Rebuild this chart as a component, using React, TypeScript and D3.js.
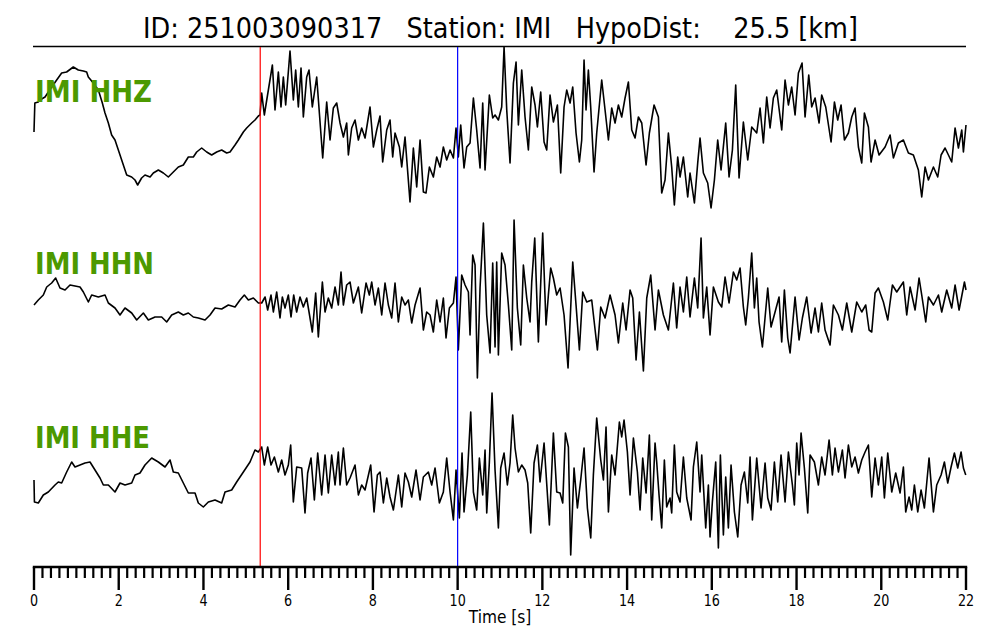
import React from "react";
import * as d3 from "d3";

// ---- Data (time [s], amplitude [arbitrary counts, positive up]) ----
const hhzTrace: [number, number][] = [
  [0, -2], [0.02, 27], [0.1, 28], [0.142, 30], [0.26, 33], [0.42, 43], [0.535, 50], [0.653, 57], [0.77, 58],
  [0.928, 63], [1.046, 60], [1.165, 59], [1.243, 58], [1.282, 53], [1.4, 47], [1.519, 40], [1.613, 27],
  [1.676, 17], [1.755, 7], [1.833, -5], [1.912, -10], [1.991, -20], [2.109, -35], [2.188, -45], [2.305, -47],
  [2.384, -50], [2.447, -55], [2.54, -48], [2.62, -45], [2.74, -47], [2.817, -43], [2.935, -40], [3.053, -43],
  [3.171, -47], [3.289, -42], [3.407, -37], [3.525, -35], [3.643, -27], [3.761, -27], [3.84, -22], [3.958, -18],
  [4.076, -22], [4.194, -25], [4.312, -22], [4.43, -20], [4.548, -23], [4.627, -22], [4.745, -15], [4.824, -10],
  [4.942, -2], [5.02, 2], [5.138, 7], [5.217, 10], [5.296, 14], [5.335, 15],
  [5.375, 37], [5.437, 15], [5.532, 40], [5.627, 65], [5.689, 20], [5.768, 58], [5.83, 23], [5.886, 53],
  [5.941, 25], [6.043, 79], [6.122, 30], [6.177, 60], [6.24, 23], [6.303, 62], [6.358, 13], [6.437, 53],
  [6.492, 60], [6.57, 23], [6.673, 53], [6.815, -28], [6.909, 28], [6.988, -10], [7.066, 22], [7.145, 27],
  [7.224, 7], [7.303, -7], [7.381, 7], [7.421, -25], [7.499, 2], [7.578, 10], [7.657, -10], [7.735, 2],
  [7.814, -8], [7.932, 23], [8.011, -17], [8.09, 0], [8.168, 14], [8.231, -32], [8.326, 0], [8.404, 10],
  [8.467, -27], [8.522, -3], [8.625, -17], [8.68, -37], [8.758, -7], [8.876, -72], [8.955, -18], [9.034, -57],
  [9.113, -10], [9.191, -62], [9.254, -63], [9.333, -37], [9.427, -47], [9.506, -27], [9.585, -37], [9.663, -17],
  [9.742, -30], [9.821, -20], [9.9, -28], [9.962, 2], [10.017, -27], [10.073, 5], [10.151, -38], [10.214, -17],
  [10.293, -13], [10.372, 32], [10.45, 0], [10.529, -38], [10.592, 27], [10.647, -40], [10.749, 35], [10.828, 12],
  [10.883, 15], [10.962, 10], [11.04, 23], [11.096, 83], [11.159, 20], [11.237, -33], [11.316, 47], [11.379, 68],
  [11.434, 5], [11.513, 60], [11.591, 13], [11.67, -20], [11.749, 43], [11.827, 25], [11.883, 3], [11.961, 38],
  [12.04, -12], [12.103, -20], [12.181, 35], [12.26, 8], [12.355, 25], [12.433, -43], [12.512, 23], [12.575, 40],
  [12.654, 27], [12.717, 43], [12.795, -3], [12.874, -32], [12.929, -10], [12.984, 70], [13.031, 20], [13.086, 60],
  [13.141, 23], [13.22, -42], [13.283, -3], [13.401, 50], [13.48, 20], [13.559, -10], [13.637, 22], [13.716, 7],
  [13.795, 25], [13.873, 13], [13.952, 32], [14.031, 48], [14.11, 0], [14.188, -8], [14.267, 13], [14.346, 7],
  [14.448, -35], [14.526, -3], [14.637, 25],
  [14.739, 13], [14.817, -63], [14.896, -50], [14.975, -3], [15.053, -37], [15.116, -75], [15.195, -27],
  [15.25, -47], [15.329, -27], [15.431, -67], [15.486, -43], [15.589, -73], [15.667, -33], [15.722, -8],
  [15.801, -43], [15.903, -53], [15.982, -78], [16.061, -50], [16.139, -10], [16.218, -40], [16.328, 7],
  [16.407, -47], [16.486, -20], [16.564, 45], [16.643, -48], [16.745, 8], [16.848, -30], [16.942, 3],
  [17.06, -3], [17.139, 22], [17.217, -13], [17.296, 33], [17.375, 2], [17.453, 32], [17.532, 40], [17.65, 0],
  [17.729, 50], [17.808, 25], [17.886, 43], [17.965, 15], [18.044, 57], [18.13, 67], [18.201, 13], [18.288, 55],
  [18.358, 23], [18.437, 32], [18.532, 7], [18.594, 35], [18.689, 23], [18.815, -12], [18.894, 28], [18.972, 10],
  [19.051, 25], [19.13, -10], [19.224, -3], [19.303, 13], [19.381, 22], [19.46, -17], [19.539, -33], [19.602, 17],
  [19.696, 3], [19.759, -32], [19.854, -10], [19.948, -25], [20.09, -17], [20.208, -5], [20.286, -28],
  [20.404, -13], [20.522, -10], [20.64, -23], [20.758, -25], [20.876, -40], [20.955, -67], [21.034, -37],
  [21.113, -50], [21.231, -37], [21.333, -47], [21.412, -25], [21.506, -18], [21.585, -25], [21.663, -32],
  [21.742, 2], [21.821, -18], [21.9, 0], [21.939, -22], [22.0, 5],
];

const hhnTrace: [number, number][] = [
  [0, -5], [0.102, 0], [0.22, 5], [0.3, 13], [0.417, 17], [0.511, 22], [0.614, 12], [0.732, 10], [0.85, 15],
  [0.968, 14], [1.086, 13], [1.165, 8], [1.283, -2], [1.361, 5], [1.519, 3], [1.676, 5], [1.755, -3],
  [1.912, -8], [2.03, -15], [2.148, -8], [2.306, -13], [2.424, -20], [2.581, -13], [2.699, -20], [2.857, -17],
  [3.014, -17], [3.132, -22], [3.25, -15], [3.407, -12], [3.525, -15], [3.643, -13], [3.761, -17], [3.879, -18],
  [4.037, -20], [4.155, -15], [4.273, -8], [4.43, -9], [4.588, -5], [4.745, -7], [4.863, 0], [4.965, 5],
  [5.06, 0], [5.178, 2], [5.296, -3], [5.375, -3], [5.454, 3], [5.516, -10], [5.595, 5], [5.65, -12],
  [5.729, 8], [5.807, -18], [5.862, 3], [5.925, -8], [6.004, 5], [6.067, -17], [6.13, 5], [6.2, -12],
  [6.279, 3], [6.358, -7], [6.437, 2], [6.492, -12], [6.57, -32], [6.649, 7], [6.712, -37], [6.807, 18],
  [6.87, -12], [6.948, 2], [7.027, -8], [7.106, 13], [7.184, -5], [7.247, 28],
  [7.303, -5], [7.381, 15], [7.46, 18], [7.539, -3], [7.657, 13], [7.735, -13], [7.838, 17], [7.916, 5],
  [7.972, 18], [8.05, -5], [8.129, 12], [8.208, -15], [8.286, 17], [8.365, -5], [8.444, -18], [8.522, 17],
  [8.601, -22], [8.68, 3], [8.758, -5], [8.837, 0], [8.916, -23], [8.995, -5], [9.113, 12], [9.191, -30],
  [9.27, -12], [9.349, -15], [9.427, -32], [9.506, 0], [9.585, -22], [9.663, 2], [9.726, -38], [9.805, -8],
  [9.9, -3], [9.962, 23], [10.017, -50], [10.096, 25], [10.175, 15], [10.254, 8], [10.293, -35], [10.356, 45],
  [10.411, 35], [10.466, -78], [10.529, 12], [10.608, 77], [10.686, -15], [10.765, -53], [10.828, 37],
  [10.883, -47], [10.922, 38], [10.962, -55], [11.04, 47], [11.119, 35], [11.198, -5], [11.277, -50],
  [11.332, 80], [11.41, -8], [11.489, -45], [11.552, 35], [11.631, 2], [11.709, -22], [11.749, 18],
  [11.82, 62], [11.906, -42], [12.008, 67], [12.087, -25], [12.142, 5], [12.197, 32], [12.26, 22],
  [12.339, 5], [12.418, 12], [12.512, -15], [12.606, -68], [12.654, -22], [12.717, 38], [12.795, -5],
  [12.874, -50], [12.953, 8], [13.047, -2], [13.165, 0], [13.299, -50], [13.378, -7], [13.48, -18],
  [13.598, 5], [13.716, -15], [13.795, -43], [13.897, -3], [13.976, -30], [14.07, 10], [14.133, 2],
  [14.212, -60], [14.291, -12], [14.385, -71], [14.464, 2], [14.558, 25], [14.66, -30],
  [14.739, 10], [14.857, -15], [14.975, -30], [15.093, 17], [15.171, -28], [15.25, 13], [15.329, -12],
  [15.408, 23], [15.486, -17], [15.589, 22], [15.667, -8], [15.746, 62], [15.801, -18], [15.88, 13],
  [15.958, -35], [16.037, 13], [16.155, -2], [16.234, -7], [16.313, 23], [16.407, -3], [16.509, 28],
  [16.588, 20], [16.667, 32], [16.745, -7], [16.8, -25], [16.863, 2], [16.942, 47], [17.005, -8], [17.06, 22],
  [17.115, -22], [17.194, -47], [17.32, 12], [17.398, -27], [17.493, -12], [17.587, 3], [17.65, -42],
  [17.713, 10], [17.792, -38], [17.847, -53], [17.965, 3], [18.06, -40], [18.138, -18], [18.24, 3],
  [18.343, -33], [18.437, -8], [18.516, -32], [18.594, -3], [18.673, -30], [18.791, -45], [18.87, -5],
  [18.988, -15], [19.082, -30], [19.185, -3], [19.303, -32], [19.421, -2], [19.539, -12], [19.633, -5],
  [19.712, -30], [19.775, -32], [19.854, 7], [19.932, 12], [20.05, -2], [20.153, -20], [20.263, 15],
  [20.365, 8], [20.522, 18], [20.601, -15], [20.68, 13], [20.798, -10], [20.892, 22], [20.955, 5],
  [21.05, -22], [21.113, 3], [21.231, -5], [21.349, 5], [21.427, -12], [21.545, 10], [21.663, -8],
  [21.742, 15], [21.837, -10], [21.963, 18], [22.0, 10],
];

const hheTrace: [number, number][] = [
  [0, -5], [0.01, -27], [0.102, -28], [0.22, -20], [0.338, -17], [0.496, -10], [0.574, -7], [0.653, -8],
  [0.771, 3], [0.889, 13], [0.968, 8], [1.086, 10], [1.204, 12], [1.322, 13], [1.44, 5], [1.558, -3],
  [1.637, -10], [1.755, -10], [1.912, -17], [2.03, -8], [2.148, -10], [2.306, -8], [2.384, 0], [2.502, 2],
  [2.62, 10], [2.778, 17], [2.935, 13], [3.093, 8], [3.211, 15], [3.289, 3], [3.407, 2], [3.525, -8],
  [3.643, -18], [3.801, -18], [3.879, -28], [3.997, -32], [4.115, -27], [4.273, -25], [4.43, -28],
  [4.509, -17], [4.666, -15], [4.784, -7], [4.942, 3], [5.099, 13], [5.217, 25], [5.296, 23], [5.375, 28],
  [5.437, 10], [5.516, 28], [5.595, 10], [5.674, 18], [5.768, 3], [5.847, 15], [5.925, 0], [6.004, 10],
  [6.059, 30], [6.122, -27], [6.201, 8], [6.319, 7], [6.397, -38], [6.46, 2], [6.539, 17], [6.618, -25],
  [6.697, 22], [6.791, -20], [6.87, 20], [6.948, -18], [7.027, 20], [7.106, -10], [7.184, 23],
  [7.224, -10], [7.303, 27], [7.381, -10], [7.46, -3], [7.578, 10], [7.657, -20], [7.735, -10], [7.814, -15],
  [7.948, 10], [8.027, -37], [8.105, 0], [8.168, 3], [8.247, -28], [8.326, -3], [8.404, -22], [8.483, -35],
  [8.601, 0], [8.68, -32], [8.758, 2], [8.837, -7], [8.916, -22], [9.018, 5], [9.113, -25], [9.191, -2],
  [9.309, 3], [9.388, -10], [9.467, 7], [9.569, -28], [9.663, -17], [9.742, 17], [9.821, -17], [9.9, -45],
  [9.962, 5], [10.041, -43], [10.104, 22], [10.151, -37], [10.23, 0], [10.309, 63], [10.372, -17],
  [10.45, -35], [10.513, 17], [10.592, -20], [10.647, 25], [10.687, -38], [10.749, 13], [10.812, 82],
  [10.883, 5], [10.962, -53], [11.017, 7], [11.096, 22], [11.174, -10], [11.237, 12], [11.3, 60],
  [11.355, 27], [11.434, 3], [11.513, 10], [11.591, 5], [11.654, -8], [11.725, -58], [11.804, 12],
  [11.883, 30], [11.945, -7], [12.04, 32], [12.166, -50], [12.26, 42], [12.339, -17], [12.418, -18],
  [12.481, -28], [12.544, 42], [12.614, 28], [12.669, -80], [12.748, 7], [12.827, -33], [12.905, -5],
  [12.984, 27], [13.063, -33], [13.142, -63], [13.204, 0], [13.283, 57], [13.378, 15], [13.441, -5],
  [13.503, 48], [13.559, -37], [13.637, 20], [13.716, 0], [13.818, 53], [13.873, 38], [13.928, 55],
  [14.007, 23], [14.07, -20], [14.149, 37], [14.243, 3], [14.306, -35], [14.369, 17], [14.448, -18],
  [14.526, 40], [14.581, -45], [14.66, 32],
  [14.699, 13], [14.754, -20], [14.817, -53], [14.88, 15], [14.935, -32], [15.014, -23], [15.053, -38],
  [15.116, 30], [15.171, -17], [15.25, -27], [15.329, 18], [15.408, -23], [15.51, -45], [15.565, 8],
  [15.644, 33], [15.722, -17], [15.762, 20], [15.856, -53], [15.919, -10], [15.958, -62], [16.013, -27],
  [16.092, 13], [16.155, -73], [16.202, 20], [16.273, -60], [16.328, -2], [16.391, -53], [16.454, 10],
  [16.533, -37], [16.612, -62], [16.69, -10], [16.769, 3], [16.848, -28], [16.903, 18], [16.958, -45],
  [17.06, 17], [17.162, -33], [17.257, 12], [17.32, -23], [17.398, -35], [17.477, 13], [17.556, -27],
  [17.634, 20], [17.729, -27], [17.808, 23], [17.902, -10], [17.949, -30], [18.004, 32], [18.059, 0],
  [18.107, 42], [18.185, 7], [18.264, -38], [18.319, 20], [18.421, 13], [18.516, -10], [18.594, 18],
  [18.673, 0], [18.768, 35], [18.846, 0], [18.909, 27], [18.988, 3], [19.082, 25], [19.145, -3],
  [19.224, 30], [19.303, 8], [19.381, 18], [19.46, 2], [19.539, 15], [19.618, 23], [19.696, 30],
  [19.775, -22], [19.854, 17], [19.932, -10], [20.011, 18], [20.074, -23], [20.153, 22], [20.247, -17],
  [20.341, 2], [20.444, -18], [20.522, 8], [20.577, -37], [20.656, -22], [20.719, -35], [20.782, -10],
  [20.861, -37], [20.939, -15], [21.018, -33], [21.128, 17], [21.231, -37], [21.309, -10], [21.412, 0],
  [21.49, 13], [21.569, -8], [21.648, 8], [21.726, 22], [21.805, 7], [21.884, 23], [21.939, 7], [21.994, 0],
];

const channelLabels = ["IMI HHZ", "IMI HHN", "IMI HHE"];
const majorTicks = [0, 2, 4, 6, 8, 10, 12, 14, 16, 18, 20, 22];
const minorStep = 0.2;
const pPick = 5.34; // red marker
const sPick = 10.0; // blue marker
const titleText = "ID: 251003090317   Station: IMI   HypoDist:    25.5 [km]";
const xLabel = "Time [s]";

const W = 1000;
const H = 640;

export default function App() {
  const x = d3.scaleLinear().domain([0, 22]).range([34, 966]);
  const traces = [hhzTrace, hhnTrace, hheTrace];
  const centers = [130, 300, 475];
  const labelBaselines = [102, 274, 448];
  const labelWidths = [117, 119, 115];
  const axisY = 567;
  const minorTicks = d3.range(0, 22 + 1e-6, minorStep).filter(
    (t) => Math.abs(t / 2 - Math.round(t / 2)) > 1e-6
  );

  return (
    <svg
      width={W}
      height={H}
      style={{ position: "absolute", left: 0, top: 0, background: "#fff", display: "block" }}
      fontFamily="DejaVu Sans"
    >
      <rect x={0} y={0} width={W} height={H} fill="#fff" />
      <text
        x={143}
        y={38}
        fontSize={28}
        textLength={715}
        lengthAdjust="spacingAndGlyphs"
        style={{ whiteSpace: "pre" }}
        fill="#000"
      >
        {titleText}
      </text>
      <line x1={x(0) - 1} x2={x(22)} y1={46.5} y2={46.5} stroke="#000" strokeWidth={1.6} />

      {traces.map((tr, i) => {
        const y = d3
          .scaleLinear()
          .domain([-90, 90])
          .range([centers[i] + 90, centers[i] - 90]);
        const line = d3
          .line<[number, number]>()
          .x((d) => x(d[0]))
          .y((d) => y(d[1]));
        return (
          <path
            key={i}
            d={line(tr) || ""}
            fill="none"
            stroke="#000"
            strokeWidth={1.6}
            strokeLinejoin="round"
          />
        );
      })}

      {channelLabels.map((lab, i) => (
        <text
          key={lab}
          x={35}
          y={labelBaselines[i]}
          fontSize={30}
          fontWeight="bold"
          fill="#4C9900"
          textLength={labelWidths[i]}
          lengthAdjust="spacingAndGlyphs"
        >
          {lab}
        </text>
      ))}

      <line x1={x(pPick)} x2={x(pPick)} y1={47} y2={axisY} stroke="#ff0000" strokeWidth={1.2} />
      <line x1={x(sPick)} x2={x(sPick)} y1={47} y2={axisY} stroke="#0000ff" strokeWidth={1.2} />

      <line x1={x(0) - 1.2} x2={x(22) + 1.2} y1={axisY} y2={axisY} stroke="#000" strokeWidth={2.4} />
      {minorTicks.map((t) => (
        <line key={"m" + t} x1={x(t)} x2={x(t)} y1={axisY} y2={axisY + 11} stroke="#000" strokeWidth={2.2} />
      ))}
      {majorTicks.map((t) => (
        <g key={"M" + t}>
          <line x1={x(t)} x2={x(t)} y1={axisY} y2={axisY + 23} stroke="#000" strokeWidth={2.4} />
          <text
            x={x(t)}
            y={606}
            fontSize={15}
            textAnchor="middle"
            fill="#000"
            transform={`translate(${x(t)},0) scale(0.85,1) translate(${-x(t)},0)`}
          >
            {t}
          </text>
        </g>
      ))}
      <text
        x={500}
        y={623}
        fontSize={17.5}
        textAnchor="middle"
        fill="#000"
        transform="translate(500,0) scale(0.88,1) translate(-500,0)"
      >
        {xLabel}
      </text>
    </svg>
  );
}
